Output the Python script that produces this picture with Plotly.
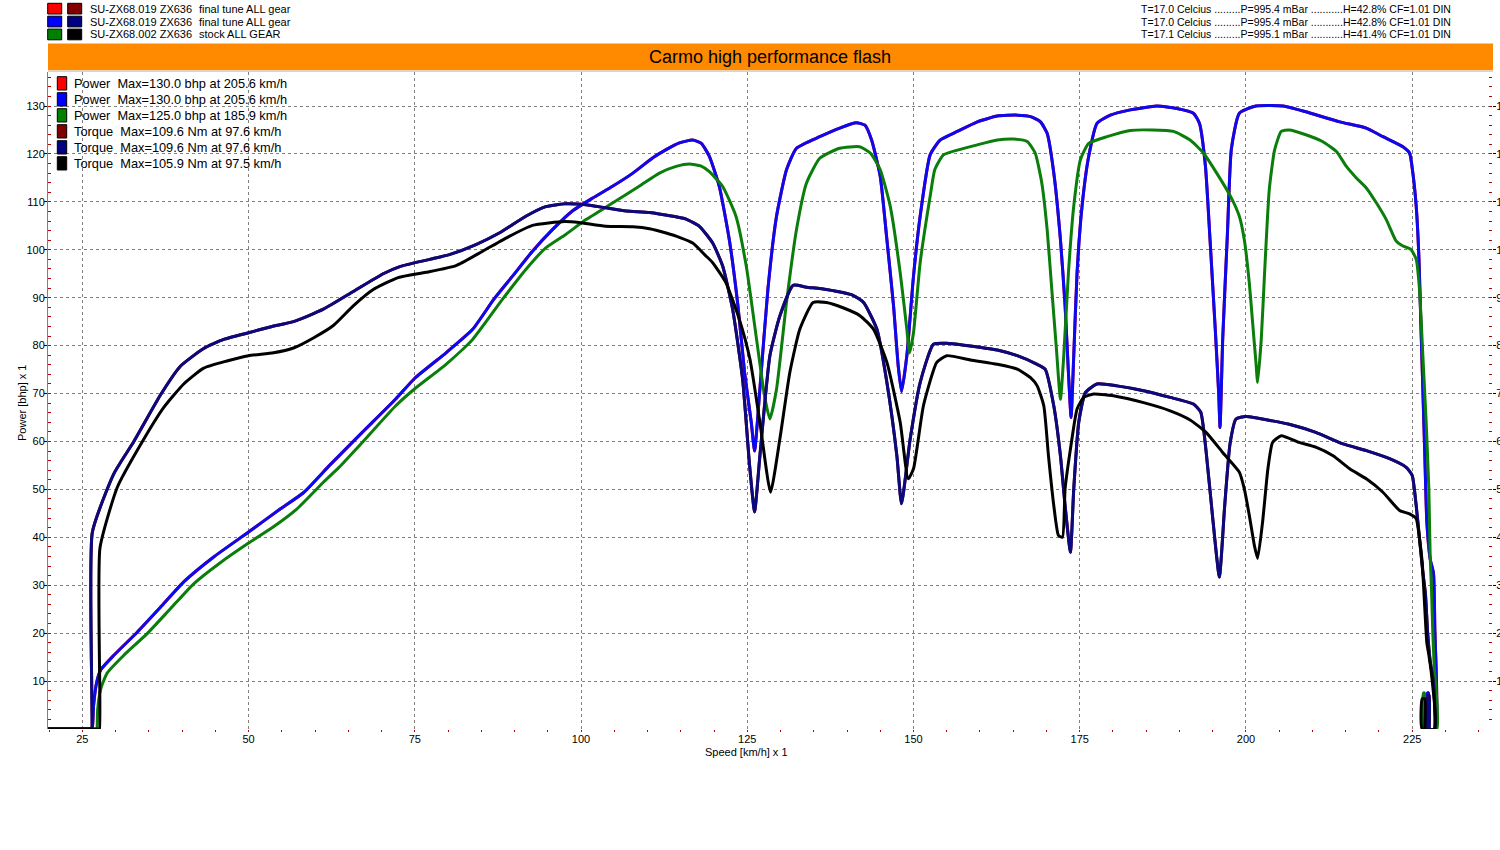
import plotly.graph_objects as go

# dyno runs, speed in km/h, power in bhp, torque in Nm
# run SU-ZX68.019 (final tune) is listed twice (red/blue, dark red/navy): same curves

tune_power_kmh = [19.0, 26.4, 26.5, 26.7, 27.2, 27.8, 29.75, 33.25, 36.75, 40.25, 44.75, 50.0, 54.75,
                  58.25, 62.1, 64.75, 67.1, 72.1, 75.0, 79.7, 83.7, 86.9, 89.7, 92.7,
                  95.7, 98.7, 101.75, 104.8, 107.8, 110.8, 112.8, 114.8, 116.8, 118.1, 119.3,
                  120.8, 122.3, 123.6, 124.6, 125.6, 126.1, 126.9, 128.1, 129.4, 130.9, 132.4,
                  135.9, 138.9, 141.4, 142.7, 143.7, 145.0, 146.0, 147.0, 147.7, 148.2, 149.0,
                  150.0, 151.0, 152.5, 154.0, 156.6, 159.6, 162.6, 165.6, 167.6, 169.1, 170.1,
                  171.1, 172.1, 172.8, 173.3, 173.7, 174.1, 174.6, 175.35, 176.35, 177.6, 179.6,
                  182.6, 186.6, 189.6, 192.1, 193.0, 193.9, 194.6, 195.4, 195.9, 196.1, 196.5,
                  197.2, 197.8, 199.0, 201.5, 205.6, 209.0, 214.1, 218.1, 220.6, 223.6, 224.6,
                  225.1, 225.6, 226.0, 226.3, 226.6, 226.9, 227.2, 227.7, 228.2, 228.4, 228.5,
                  227.3, 227.3, 227.45, 227.45]
tune_power_bhp = [0, 0, 0, 5, 10, 12.4, 15.4, 20.2, 25.4, 30.7, 35.9, 41.1, 45.9,
                  49.3, 54.9, 58.6, 61.9, 68.8, 73.2, 78.5, 83.4, 89.7, 94.5, 99.7,
                  104.2, 108.1, 110.8, 113.3, 116.0, 119.2, 120.9, 122.3, 122.9, 122.2, 119.5,
                  113.2, 102.1, 88.3, 74.4, 64.0, 58.0, 70.9, 91.7, 107.0, 116.7, 121.2,
                  123.6, 125.4, 126.5, 126.0, 122.9, 115.3, 102.1, 88.3, 75.8, 70.4, 77.9,
                  94.5, 107.0, 119.8, 122.9, 124.7, 126.7, 127.9, 128.1, 127.8, 126.7, 124.3,
                  116.0, 102.1, 88.3, 74.4, 65.0, 77.9, 95.2, 109.1, 119.5, 126.4, 128.1,
                  129.2, 130.0, 129.5, 128.5, 126.4, 117.5, 102.0, 83.0, 70.0, 62.9, 81.3,
                  103.0, 121.0, 128.5, 130.0, 130.0, 128.8, 126.7, 125.4, 123.6, 121.5, 120.2,
                  116.0, 109.1, 98.7, 84.7, 70.9, 57.0, 43.2, 35.5, 32.5, 21.0, 0,
                  0, 7.5, 7.5, 0]

tune_torque_kmh = [19.0, 26.3, 26.4, 26.5, 29.75, 32.75, 36.75, 39.75, 43.25, 46.25, 50.0, 53.25, 56.75,
                   61.25, 65.75, 70.25, 72.75, 77.25, 80.2, 84.2, 87.7, 91.7, 94.7, 97.6, 100.75,
                   103.75, 106.8, 110.3, 113.8, 115.8, 117.8, 119.8, 121.3, 122.8, 124.3, 125.35,
                   126.1, 126.9, 128.4, 129.9, 131.9, 133.9, 136.9, 140.9, 142.5, 144.5, 146.0,
                   147.5, 148.2, 149.5, 151.0, 153.0, 155.0, 157.6, 162.6, 165.6, 168.6, 169.8,
                   171.1, 172.1, 172.8, 173.6, 174.1, 174.85, 175.85, 177.6, 180.6, 184.6, 188.6,
                   192.1, 193.2, 194.0, 195.0, 196.0, 196.8, 197.6, 198.5, 200.0, 204.0, 206.5,
                   210.5, 214.6, 218.1, 221.6, 224.1, 225.0, 225.6, 226.1, 226.6, 227.0, 227.3,
                   227.7, 228.2, 228.3, 227.4, 227.4, 227.55, 227.55]
tune_torque_nm = [0, 0, 0, 41.0, 53.3, 60.0, 69.7, 75.7, 79.4, 81.3, 82.7, 83.9, 85.0,
                  87.6, 91.3, 95.0, 96.5, 98.0, 99.0, 101.1, 103.5, 107.0, 109.0, 109.6, 109.4,
                  108.75, 108.1, 107.8, 107.0, 106.4, 104.9, 101.4, 96.6, 87.6, 73.0, 55.0,
                  45.3, 57.0, 77.9, 86.2, 92.6, 92.2, 91.7, 90.5, 89.0, 83.4, 72.3,
                  57.0, 47.0, 60.5, 72.3, 80.3, 80.5, 80.1, 79.1, 77.9, 76.1, 75.1,
                  67.4, 57.0, 46.6, 36.9, 50.1, 64.0, 70.2, 72.0, 71.6, 70.6, 69.2,
                  67.8, 66.1, 58.0, 44.0, 31.7, 46.6, 59.5, 64.7, 65.2, 64.3, 63.6,
                  61.9, 59.5, 58.1, 56.4, 54.6, 52.9, 46.6, 39.7, 32.7, 28.0, 20.5,
                  14.2, 9.6, 0, 0, 7.0, 7.0, 0]

# run SU-ZX68.002 (stock)
stock_power_kmh = [19.0, 27.1, 27.2, 27.3, 27.8, 28.75, 31.25, 34.75, 38.25, 41.75, 45.75, 50.0, 53.75,
                   57.25, 61.25, 63.6, 67.1, 72.1, 75.0, 79.7, 83.7, 88.2, 91.7, 94.7,
                   97.7, 100.75, 104.8, 108.8, 111.8, 114.3, 116.3, 118.0, 119.3, 121.3, 123.3,
                   124.85, 126.4, 127.6, 128.4, 129.4, 130.9, 132.4, 133.9, 135.9, 138.9, 141.9,
                   143.5, 145.0, 146.5, 148.0, 149.0, 149.4, 150.0, 151.0, 152.5, 153.2, 154.5,
                   156.6, 159.6, 162.6, 165.1, 167.1, 168.3, 169.3, 170.1, 170.8, 171.5, 172.1,
                   172.6, 173.3, 174.1, 175.1, 176.35, 179.1, 182.6, 185.9, 189.1, 191.6, 193.6,
                   195.6, 197.7, 199.0, 199.75, 200.5, 201.0, 201.5, 201.75, 202.3, 202.8, 203.5,
                   204.3, 205.3, 206.5, 209.0, 211.5, 213.6, 215.1, 216.6, 218.1, 219.6, 221.1,
                   222.6, 223.6, 224.8, 225.6, 226.1, 226.6, 227.1, 227.5, 227.7, 227.9, 228.1,
                   228.3, 228.7, 226.7, 226.7, 226.85, 226.85]
stock_power_bhp = [0, 0, 0, 4.0, 8.5, 11.7, 15.4, 19.9, 25.1, 30.3, 34.7, 38.8, 42.2,
                   45.9, 51.5, 54.6, 59.8, 67.4, 71.0, 76.1, 81.3, 89.7, 95.9, 100.4,
                   103.2, 106.3, 109.8, 113.3, 116.0, 117.4, 117.9, 117.5, 116.3, 113.2, 107.0,
                   96.6, 81.3, 69.5, 64.7, 70.9, 89.0, 104.2, 113.9, 119.1, 121.2, 121.5,
                   120.2, 116.7, 109.1, 95.2, 83.4, 78.5, 82.7, 97.3, 111.1, 116.7, 119.8,
                   120.8, 121.9, 122.9, 123.1, 122.6, 120.2, 113.9, 104.2, 91.7, 79.2, 68.8,
                   77.9, 95.2, 109.1, 118.8, 122.2, 123.6, 124.9, 125.0, 124.7, 122.9, 120.2,
                   116.0, 111.1, 107.0, 102.1, 93.1, 84.8, 76.5, 72.3, 81.3, 95.2, 112.5,
                   120.8, 124.7, 125.0, 124.0, 122.6, 120.5, 117.4, 115.0, 112.9, 109.8, 106.3,
                   101.8, 100.8, 100.1, 98.0, 91.7, 77.9, 64.0, 50.1, 36.2, 29.3, 20.0,
                   13.3, 0, 0, 7.5, 7.5, 0]

stock_torque_kmh = [19.0, 27.5, 27.6, 27.65, 30.25, 33.75, 37.25, 40.25, 43.25, 46.75, 50.0, 53.75, 56.75,
                    59.75, 62.75, 65.75, 68.75, 72.5, 76.7, 81.2, 85.2, 89.2, 92.7, 97.5, 99.7,
                    103.7, 107.8, 110.3, 112.8, 114.8, 116.8, 118.8, 119.8, 121.8, 123.8, 125.4,
                    126.9, 128.5, 129.9, 131.4, 132.9, 134.9, 136.9, 139.4, 142.0, 144.0, 146.0,
                    148.0, 149.2, 150.0, 151.5, 153.5, 155.0, 158.6, 162.6, 165.6, 167.6, 168.6,
                    169.6, 170.3, 171.1, 171.8, 172.4, 172.8, 173.6, 174.6, 175.6, 177.1, 180.6,
                    184.6, 188.6, 191.6, 194.0, 196.5, 199.0, 199.75, 200.5, 201.25, 201.75, 202.5,
                    203.3, 204.0, 205.3, 208.0, 210.5, 213.1, 215.6, 218.1, 220.6, 223.1, 224.6,
                    225.6, 226.1, 226.5, 226.9, 227.2, 227.5, 227.9, 228.4, 226.5, 226.5, 226.9,
                    226.9]
stock_torque_nm = [0, 0, 0, 37.7, 50.4, 59.3, 67.1, 72.0, 75.3, 76.8, 77.9, 78.5, 79.5,
                   81.6, 84.2, 88.3, 91.7, 94.2, 95.3, 96.7, 99.7, 102.8, 105.1, 105.9, 105.7,
                   104.9, 104.8, 104.4, 103.5, 102.6, 101.4, 98.7, 97.3, 93.1, 85.5, 77.2,
                   64.0, 49.4, 60.5, 74.4, 83.4, 89.0, 89.0, 87.9, 86.2, 83.4, 76.5,
                   64.0, 52.2, 54.3, 67.5, 76.5, 77.9, 77.0, 76.1, 75.1, 73.3, 71.6,
                   67.4, 57.0, 46.6, 40.4, 40.0, 50.1, 58.4, 66.8, 69.2, 69.9, 69.4,
                   68.1, 66.4, 64.5, 61.9, 57.7, 53.6, 50.1, 44.6, 38.4, 35.6, 43.2,
                   54.3, 59.8, 61.2, 59.8, 58.8, 57.0, 54.3, 52.2, 49.4, 45.6, 44.9,
                   43.9, 39.7, 34.8, 25.0, 18.0, 15.5, 11.4, 0, 0, 6.3, 6.3,
                   0]

X_TICKS = [25, 50, 75, 100, 125, 150, 175, 200, 225]
Y_TICKS = [10, 20, 30, 40, 50, 60, 70, 80, 90, 100, 110, 120, 130]

RUN_NAMES = ["SU-ZX68.019 ZX636", "SU-ZX68.019 ZX636", "SU-ZX68.002 ZX636"]
RUN_NOTES = ["final tune ALL gear", "final tune ALL gear", "stock ALL GEAR"]
RUN_WEATHER = [
    "T=17.0 Celcius .........P=995.4 mBar ...........H=42.8% CF=1.01 DIN",
    "T=17.0 Celcius .........P=995.4 mBar ...........H=42.8% CF=1.01 DIN",
    "T=17.1 Celcius .........P=995.1 mBar ...........H=41.4% CF=1.01 DIN",
]
MAX_LABELS = [
    "Power  Max=130.0 bhp at 205.6 km/h",
    "Power  Max=130.0 bhp at 205.6 km/h",
    "Power  Max=125.0 bhp at 185.9 km/h",
    "Torque  Max=109.6 Nm at 97.6 km/h",
    "Torque  Max=109.6 Nm at 97.6 km/h",
    "Torque  Max=105.9 Nm at 97.5 km/h",
]

POWER_COLORS = ["#FF0000", "#0000FF", "#008000"]
TORQUE_COLORS = ["#800000", "#000080", "#000000"]
LINE_COLORS = ["#FF0000", "#0A0AF0", "#0A7D0A", "#800000", "#0A0A80", "#000000"]
FONT = "Liberation Sans, Arial, sans-serif"

W, H = 1500, 850
L, R, T, B = 48, 1492, 72, 729     # plot area in pixels


def fx(px):
    return (px - L) / (R - L)


def fy(py):
    return (B - py) / (B - T)


# power on the left axis, torque on the right one
curves = [
    (tune_power_kmh, tune_power_bhp, "y"),
    (tune_power_kmh, tune_power_bhp, "y"),
    (stock_power_kmh, stock_power_bhp, "y"),
    (tune_torque_kmh, tune_torque_nm, "y2"),
    (tune_torque_kmh, tune_torque_nm, "y2"),
    (stock_torque_kmh, stock_torque_nm, "y2"),
]

fig = go.Figure()
for (xs, ys, ax), col, name in zip(curves, LINE_COLORS, MAX_LABELS):
    fig.add_scatter(x=xs, y=ys, yaxis=ax, mode="lines", name=name, showlegend=False,
                    line=dict(color=col, width=3, shape="spline", smoothing=0.5),
                    hoverinfo="x+y+name")

shapes = []
annots = []

# orange title band + thin rule under it
shapes.append(dict(type="rect", xref="paper", yref="paper", x0=0, x1=fx(1493),
                   y0=fy(70), y1=fy(43.5), fillcolor="#FF8A00", line_width=0, layer="above"))
shapes.append(dict(type="line", xref="paper", yref="paper", x0=0, x1=fx(1493),
                   y0=fy(71), y1=fy(71), line=dict(color="#C8A878", width=1)))
annots.append(dict(text="Carmo high performance flash", x=0.5, y=fy(57), xref="paper", yref="paper",
                   xanchor="center", yanchor="middle", showarrow=False,
                   font=dict(size=18, color="#000000")))

# run legend at the top
for i in range(3):
    y0, y1 = 3.3 + 12.9 * i, 14.0 + 12.9 * i
    for x0, x1, col in ((47.7, 61.7, POWER_COLORS[i]), (67.7, 81.7, TORQUE_COLORS[i])):
        shapes.append(dict(type="rect", xref="paper", yref="paper", x0=fx(x0), x1=fx(x1),
                           y0=fy(y1), y1=fy(y0), fillcolor=col, line=dict(color="#000000", width=1)))
    yc = fy((y0 + y1) / 2)
    annots.append(dict(text=RUN_NAMES[i], x=fx(87.5), y=yc, xref="paper", yref="paper",
                       xanchor="left", yanchor="middle", showarrow=False, font=dict(size=11)))
    annots.append(dict(text=RUN_NOTES[i], x=fx(196.5), y=yc, xref="paper", yref="paper",
                       xanchor="left", yanchor="middle", showarrow=False, font=dict(size=11)))
    annots.append(dict(text=RUN_WEATHER[i], x=fx(1453), y=yc, xref="paper", yref="paper",
                       xanchor="right", yanchor="middle", showarrow=False, font=dict(size=10.5)))

# max value legend inside the plot
for i, (label, col) in enumerate(zip(MAX_LABELS, POWER_COLORS + TORQUE_COLORS)):
    y0, y1 = 76.7 + 16 * i, 90 + 16 * i
    shapes.append(dict(type="rect", xref="paper", yref="paper", x0=fx(57.3), x1=fx(66.7),
                       y0=fy(y1), y1=fy(y0), fillcolor=col, line=dict(color="#000000", width=1)))
    annots.append(dict(text=label, x=fx(72), y=fy((y0 + y1) / 2), xref="paper", yref="paper",
                       xanchor="left", yanchor="middle", showarrow=False, font=dict(size=12.8)))

# axis titles
annots.append(dict(text="Speed [km/h] x 1", x=fx(746), y=fy(752), xref="paper", yref="paper",
                   xanchor="center", yanchor="middle", showarrow=False, font=dict(size=11)))
annots.append(dict(text="Power [bhp] x 1", x=fx(22), y=fy(403), xref="paper", yref="paper",
                   xanchor="center", yanchor="middle", showarrow=False, textangle=-90,
                   font=dict(size=11)))

grid = dict(showgrid=True, gridcolor="#808080", gridwidth=1, griddash="3px,3px")
y_minor = dict(tickmode="array", tickvals=list(range(2, 137, 2)), ticks="inside",
               ticklen=3, tickcolor="#C00000", showgrid=False)

fig.update_layout(
    template="none",
    width=W, height=H,
    margin=dict(l=L, r=W - R, t=T, b=H - B, pad=0),
    paper_bgcolor="#FFFFFF", plot_bgcolor="#FFFFFF",
    font=dict(family=FONT, size=11, color="#000000"),
    showlegend=False,
    shapes=shapes, annotations=annots,
    xaxis=dict(range=[19.84, 237.0], tickmode="array", tickvals=X_TICKS,
               ticks="", ticklen=3, zeroline=False, showline=False, automargin=False,
               tickfont=dict(size=11), ticklabelstandoff=2,
               minor=dict(tickmode="array", tickvals=list(range(20, 237, 5)), ticks="outside",
                          ticklen=2, tickcolor="#C00000", showgrid=False),
               **grid),
    yaxis=dict(range=[0, 137.1], tickmode="array", tickvals=Y_TICKS,
               ticks="outside", ticklen=3, tickcolor="#000000",
               zeroline=False, showline=True, linecolor="#808080", linewidth=1,
               automargin=False, tickfont=dict(size=11), ticklabelstandoff=-3,
               minor=y_minor, **grid),
    yaxis2=dict(range=[0, 137.1], overlaying="y", side="right", anchor="x",
                tickmode="array", tickvals=Y_TICKS, ticks="outside", ticklen=3,
                tickcolor="#000000", showgrid=False, zeroline=False, showline=False,
                automargin=False, tickfont=dict(size=11), ticklabelstandoff=-2,
                minor=y_minor),
)

# page body has an 8px default margin; drop it so the figure sits at the window corner
fig.write_html("out.html", config={"displayModeBar": False},
               post_script="document.body.style.margin = '0';")
